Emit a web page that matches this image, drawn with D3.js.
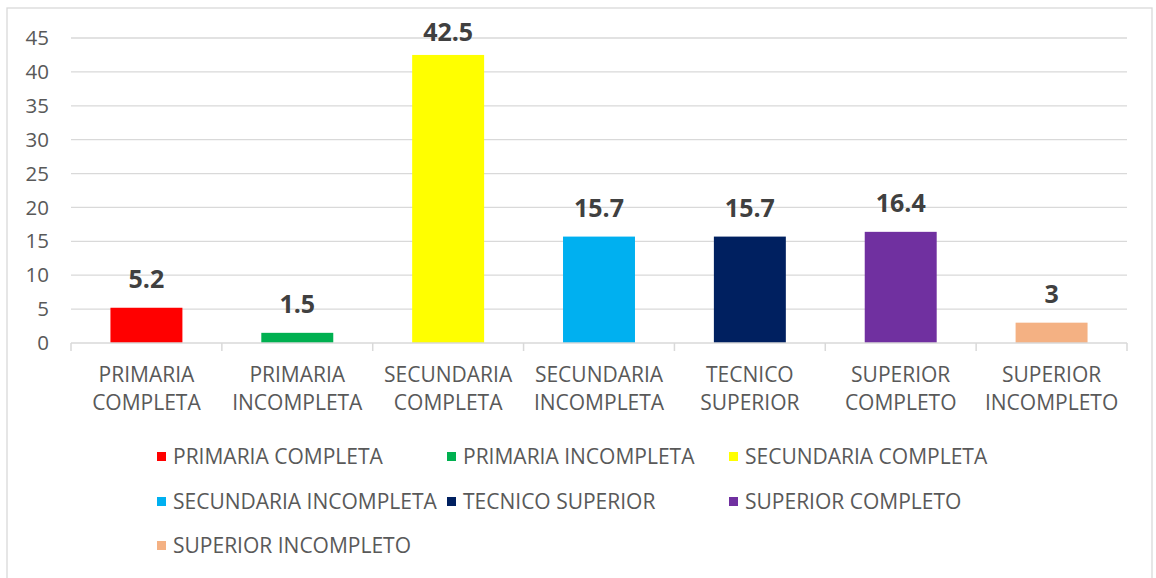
<!DOCTYPE html>
<html><head><meta charset="utf-8">
<script src="https://cdn.jsdelivr.net/npm/d3@7"></script>
<style>body{margin:0;background:#fff;} text{font-family:"Open Sans",sans-serif;}</style>
</head><body>
<svg id="c" width="1156" height="578"></svg>
<script>
const categories = ["PRIMARIA COMPLETA","PRIMARIA INCOMPLETA","SECUNDARIA COMPLETA","SECUNDARIA INCOMPLETA","TECNICO SUPERIOR","SUPERIOR COMPLETO","SUPERIOR INCOMPLETO"];
const axisLines = [["PRIMARIA","COMPLETA"],["PRIMARIA","INCOMPLETA"],["SECUNDARIA","COMPLETA"],["SECUNDARIA","INCOMPLETA"],["TECNICO","SUPERIOR"],["SUPERIOR","COMPLETO"],["SUPERIOR","INCOMPLETO"]];
const values = [5.2, 1.5, 42.5, 15.7, 15.7, 16.4, 3];
const labels = ["5.2","1.5","42.5","15.7","15.7","16.4","3"];
const colors = ["#FF0000","#00B050","#FFFF00","#00B0F0","#002060","#7030A0","#F4B183"];
const yTicks = [0,5,10,15,20,25,30,35,40,45];

const svg = d3.select("#c");
svg.append("rect").attr("x",7).attr("y",8).attr("width",1145).attr("height",575)
  .attr("fill","#fff").attr("stroke","#d9d9d9").attr("stroke-width",1.3);

const x0 = 71, x1 = 1127, yTop = 38, yBot = 343;
const x = d3.scaleBand().domain(categories).range([x0,x1]).paddingInner(0.523).paddingOuter(0.2615);
const y = d3.scaleLinear().domain([0,45]).range([yBot,yTop]);

// gridlines
svg.append("g").selectAll("line").data(yTicks.filter(d=>d>0)).join("line")
  .attr("x1",x0).attr("x2",x1).attr("y1",d=>y(d)).attr("y2",d=>y(d))
  .attr("stroke","#d9d9d9").attr("stroke-width",1.3);

// y axis labels
const yAxis = svg.append("g").attr("transform",`translate(${x0},0)`)
  .call(d3.axisLeft(y).tickValues(yTicks).tickSize(0).tickPadding(22));
yAxis.select(".domain").remove();
yAxis.selectAll("text").attr("fill","#595959").style("font-size","20.5px").style("font-family","Open Sans");

// bars
svg.append("g").selectAll("rect").data(values).join("rect")
  .attr("x",(d,i)=>x(categories[i])).attr("width",x.bandwidth())
  .attr("y",d=>y(d)).attr("height",d=>yBot-y(d)).attr("fill",(d,i)=>colors[i]);

// x axis line and ticks
const bw = x.step();
svg.append("line").attr("x1",x0).attr("x2",x1).attr("y1",yBot).attr("y2",yBot)
  .attr("stroke","#d9d9d9").attr("stroke-width",1.5);
svg.append("g").selectAll("line").data(d3.range(categories.length+1)).join("line")
  .attr("x1",i=>x0+i*bw).attr("x2",i=>x0+i*bw).attr("y1",yBot).attr("y2",yBot+8)
  .attr("stroke","#d9d9d9").attr("stroke-width",1.5);

// category labels
const cl = svg.append("g").selectAll("text").data(categories).join("text")
  .attr("text-anchor","middle").attr("fill","#595959").style("font-size","21px")
  .attr("x",d=>x(d)+x.bandwidth()/2).attr("y",382);
cl.each(function(d,i){
  const t = d3.select(this);
  axisLines[i].forEach((s,k)=>t.append("tspan").attr("x",x(d)+x.bandwidth()/2).attr("dy",k===0?0:28).text(s));
});

// data labels
svg.append("g").selectAll("text").data(values).join("text")
  .attr("text-anchor","middle").attr("fill","#404040").style("font-size","25px").style("font-weight","bold")
  .attr("x",(d,i)=>x(categories[i])+x.bandwidth()/2)
  .attr("y",d=>Math.max(y(d)-20,41)).text((d,i)=>labels[i]);

// legend
const colX = [157,447,729];
const rowY = [457,502,546];
const lg = svg.append("g").selectAll("g").data(categories).join("g")
  .attr("transform",(d,i)=>`translate(${colX[i%3]},${rowY[Math.floor(i/3)]})`);
lg.append("rect").attr("x",0).attr("y",-5).attr("width",9).attr("height",9).attr("fill",(d,i)=>colors[i]);
lg.append("text").attr("x",16).attr("y",7).attr("fill","#595959").style("font-size","21px").text(d=>d);
</script>
</body></html>
